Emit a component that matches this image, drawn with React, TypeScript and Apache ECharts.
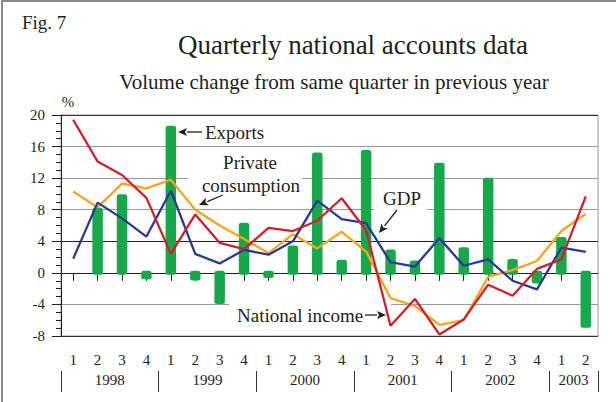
import React, { useEffect, useRef } from "react";
import * as echarts from "echarts";

const categories = [
  "1998 Q1", "1998 Q2", "1998 Q3", "1998 Q4",
  "1999 Q1", "1999 Q2", "1999 Q3", "1999 Q4",
  "2000 Q1", "2000 Q2", "2000 Q3", "2000 Q4",
  "2001 Q1", "2001 Q2", "2001 Q3", "2001 Q4",
  "2002 Q1", "2002 Q2", "2002 Q3", "2002 Q4",
  "2003 Q1", "2003 Q2",
];
const years = ["1998", "1999", "2000", "2001", "2002", "2003"];
const quartersPerYear = [4, 4, 4, 4, 4, 2];
const yTicks = { min: -8, max: 20, interval: 4 };

const exportsData = [null, 8.0, 9.7, -0.55, 18.4, -0.7, -3.7, 6.1, -0.4, 3.2, 15.0, 1.4, 15.3, 2.7, 1.3, 13.7, 3.0, 11.8, 1.5, -1.1, 4.3, -6.7];
const gdpData = [1.8, 8.9, 6.9, 4.6, 10.4, 2.4, 1.2, 2.9, 2.3, 4.0, 9.15, 6.8, 6.3, 1.35, 0.8, 4.4, 0.9, 1.7, -1.0, -2.1, 3.2, 2.65];
const nationalIncomeData = [19.4, 14.1, 12.4, 9.5, 2.4, 7.4, 3.8, 3.0, 5.7, 5.3, 6.6, 9.45, 5.4, -6.7, -3.3, -7.8, -5.9, -1.5, -2.9, 0.5, 1.7, 9.7];
const privateConsumptionData = [10.3, 8.3, 11.3, 10.7, 11.8, 8.0, 6.0, 4.3, 2.5, 4.9, 3.1, 5.2, 2.7, -3.2, -4.2, -6.6, -6.0, -0.5, 0.35, 1.5, 5.3, 7.45];

const FONT = "'Liberation Serif', 'Times New Roman', serif";
const INK = "#231f20";
const GREEN = "#17a84b";
const RED = "#d0202e";
const BLUE = "#2a3896";
const ORANGE = "#f8a51b";

function arrow(x1: number, y1: number, x2: number, y2: number) {
  const ang = Math.atan2(y2 - y1, x2 - x1);
  const L = 9, W = 4;
  const bx = x2 - L * Math.cos(ang), by = y2 - L * Math.sin(ang);
  const px = -Math.sin(ang) * W, py = Math.cos(ang) * W;
  return [
    { type: "line", z: 50, shape: { x1, y1, x2: bx, y2: by }, style: { stroke: INK, lineWidth: 1.3 } },
    {
      type: "polygon", z: 50,
      shape: { points: [[x2, y2], [bx + px, by + py], [bx + 2 * Math.cos(ang), by + 2 * Math.sin(ang)], [bx - px, by - py]] },
      style: { fill: INK },
    },
  ];
}

function txt(text: string, x: number, y: number, size: number, align = "left") {
  return {
    type: "text", z: 60,
    style: { text, x, y, font: `${size}px ${FONT}`, fill: INK, align, verticalAlign: "middle" },
  };
}

function whiteBox(x: number, y: number, w: number, h: number) {
  return { type: "rect", z: 1, shape: { x, y, width: w, height: h }, style: { fill: "#fff" } };
}

export default function App() {
  const ref = useRef<HTMLDivElement>(null);
  useEffect(() => {
    if (!ref.current) return;
    const chart = echarts.init(ref.current, null, { renderer: "svg" });

    const bounds: number[] = [0];
    quartersPerYear.forEach((q, i) => bounds.push(bounds[i] + q));
    const centers = quartersPerYear.map((q, i) => bounds[i] + q / 2);

    const barData = exportsData
      .map((v, i) => (v === null ? null : [i, v]))
      .filter((d) => d !== null);

    chart.setOption({
      animation: false,
      backgroundColor: "#fff",
      grid: { left: 61, right: 18, top: 115, bottom: 66, show: true, borderColor: "#999", borderWidth: 1 },
      xAxis: [
        {
          type: "category",
          data: categories,
          boundaryGap: true,
          axisLine: { show: true, lineStyle: { color: "#222", width: 1 } },
          axisTick: { show: true, alignWithLabel: true, length: 8, lineStyle: { color: "#222" } },
          axisLabel: {
            interval: 0, margin: 16, color: INK, fontFamily: FONT, fontSize: 15,
            formatter: (v: string) => v.slice(-1),
          },
          splitLine: { show: false },
        },
        {
          type: "value",
          position: "bottom",
          offset: 56,
          min: 0,
          max: bounds[bounds.length - 1],
          interval: 1,
          axisLine: { show: false },
          axisTick: { show: true, inside: true, length: 21, lineStyle: { color: "#333" }, customValues: bounds },
          axisLabel: {
            show: true, inside: true, margin: 5, color: INK, fontFamily: FONT, fontSize: 15,
            customValues: centers,
            formatter: (v: number) => {
              const i = centers.indexOf(v);
              return i >= 0 ? years[i] : "";
            },
          },
          splitLine: { show: false },
        },
      ],
      yAxis: {
        type: "value",
        min: yTicks.min, max: yTicks.max, interval: yTicks.interval,
        axisLine: { show: true, lineStyle: { color: "#222" } },
        axisTick: { show: true, length: 9, lineStyle: { color: "#222" } },
        minorTick: { show: true, splitNumber: 4, length: 5, lineStyle: { color: "#222" } },
        axisLabel: { margin: 16, color: INK, fontFamily: FONT, fontSize: 15 },
        splitLine: {
          show: true,
          lineStyle: { color: ["#333", "#999", "#222", "#222", "#999", "#999", "#999", "#333"], width: 1 },
        },
      },
      series: [
        {
          type: "custom", name: "Exports", data: barData,
          encode: { x: 0, y: 1 },
          renderItem: (params: any, api: any) => {
            const idx = api.value(0);
            const v = api.value(1);
            const p0 = api.coord([idx, 0]);
            const p1 = api.coord([idx, v]);
            const w = 10.5;
            const top = Math.min(p0[1], p1[1]) - 2;
            const bottom = Math.max(p0[1], p1[1]) + 2;
            return {
              type: "rect",
              shape: { x: p0[0] - w / 2, y: top, width: w, height: bottom - top, r: 2.5 },
              style: { fill: GREEN },
            };
          },
        },
        { type: "line", name: "Private consumption", data: privateConsumptionData, showSymbol: false, symbol: "none", lineStyle: { color: ORANGE, width: 2.3 } },
        { type: "line", name: "GDP", data: gdpData, showSymbol: false, symbol: "none", lineStyle: { color: BLUE, width: 2.3 } },
        { type: "line", name: "National income", data: nationalIncomeData, showSymbol: false, symbol: "none", lineStyle: { color: RED, width: 2.3 } },
      ],
      graphic: [
        { type: "rect", z: 100, shape: { x: 2, y: 1, width: 640, height: 440 }, style: { fill: "none", stroke: "#8a8a8a", lineWidth: 2 } },
        txt("Fig. 7", 22, 22, 19),
        txt("Quarterly national accounts data", 353, 45, 27, "center"),
        txt("Volume change from same quarter in previous year", 334, 82, 21, "center"),
        txt("%", 68, 102, 15, "center"),
        whiteBox(188, 150, 114, 47),
        whiteBox(374, 188, 53, 26),
        whiteBox(229, 302, 162, 24),
        txt("Exports", 205, 132, 19),
        ...arrow(202, 132, 178, 132),
        txt("Private", 250, 162, 19, "center"),
        txt("consumption", 251, 185, 19, "center"),
        ...arrow(223, 195, 199, 205),
        txt("GDP", 402, 198, 19, "center"),
        ...arrow(397, 210, 379, 233),
        txt("National income", 237, 315, 19),
        ...arrow(365, 315, 386, 315),
      ],
    });
    return () => chart.dispose();
  }, []);
  return (
    <div
      ref={ref}
      style={{ position: "fixed", left: 0, top: 0, width: 616, height: 402, background: "#fff" }}
    />
  );
}
